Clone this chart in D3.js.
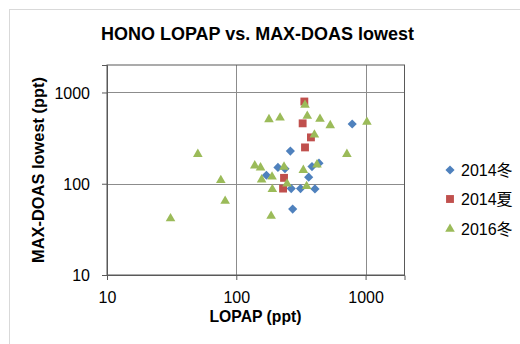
<!DOCTYPE html>
<html>
<head>
<meta charset="utf-8">
<script src="https://cdn.jsdelivr.net/npm/d3@7"></script>
<style>
    body { margin: 0; background: #fff; }
    svg { display: block; font-family: "Liberation Sans", "Noto Sans CJK SC", sans-serif; }
</style>
</head>
<body>
<div id="chart"></div>
<script>
// values (LOPAP ppt, MAX-DOAS ppt)
const winter2014 = [
    [788, 451], [262, 228], [210, 151], [238, 146], [171, 124], [266, 88.5],
    [314, 88.5], [406, 87.7], [363, 118], [385, 154], [436, 168], [273, 52.8]
]
const summer2014 = [
    [336, 796], [326, 459], [378, 322], [340, 250], [234, 116], [230, 88.5]
]
const winter2016 = [
    [50.4, 211], [139, 158], [154, 150], [75.9, 109], [82, 64.7], [31, 41.5],
    [340, 729], [354, 552], [179, 507], [218, 528], [444, 511], [533, 436],
    [1024, 474], [402, 344], [717, 211], [234, 153], [157, 111], [189, 119],
    [247, 100], [190, 87], [350, 94], [330, 141], [421, 162], [186, 44.3]
]
const seriesNames = ["2014冬", "2014夏", "2016冬"]
const xTicks = [10, 100, 1000]
const yTicks = [10, 100, 1000]
const domain = [10, 2000]

const width = 520, height = 344
const plot = { left: 107, top: 65, right: 404.5, bottom: 275 }

const svg = d3.select("#chart").append("svg")
    .attr("width", width)
    .attr("height", height)

// outer chart border
svg.append("rect")
    .attr("x", 9.5).attr("y", 9.5)
    .attr("width", 530).attr("height", 400)
    .attr("fill", "none")
    .attr("stroke", "#d9d9d9")

const xScale = d3.scaleLog().domain(domain).range([plot.left, plot.right])
const yScale = d3.scaleLog().domain(domain).range([plot.bottom, plot.top])

// gridlines
const grid = svg.append("g").attr("stroke", "#8c8c8c").attr("stroke-width", 1)
grid.selectAll(".gx").data(xTicks.slice(1)).enter().append("line")
    .attr("x1", d => Math.round(xScale(d)) + 0.5).attr("x2", d => Math.round(xScale(d)) + 0.5)
    .attr("y1", plot.top).attr("y2", plot.bottom)
grid.selectAll(".gy").data(yTicks.slice(1)).enter().append("line")
    .attr("y1", d => Math.round(yScale(d)) + 0.5).attr("y2", d => Math.round(yScale(d)) + 0.5)
    .attr("x1", plot.left).attr("x2", plot.right)

// plot border
svg.append("rect")
    .attr("x", plot.left).attr("y", plot.top)
    .attr("width", plot.right - plot.left).attr("height", plot.bottom - plot.top)
    .attr("fill", "none")
    .attr("stroke", "#595959")

const xAxis = svg.append("g")
    .attr("transform", "translate(0," + plot.bottom + ")")
    .call(d3.axisBottom(xScale).tickValues(xTicks).tickFormat(d3.format("d")).tickSize(5).tickPadding(12))
const yAxis = svg.append("g")
    .attr("transform", "translate(" + plot.left + ",0)")
    .call(d3.axisLeft(yScale).tickValues(yTicks).tickFormat(d3.format("d")).tickSize(5).tickPadding(12))

for (const ax of [xAxis, yAxis]) {
    ax.select(".domain").attr("stroke", "#595959")
    ax.selectAll(".tick line").attr("stroke", "#595959")
    ax.selectAll(".tick text")
        .attr("fill", "#000")
        .style("font-size", "16px")
        .style("font-family", "Liberation Sans, sans-serif")
}
yAxis.selectAll(".tick text").attr("dy", "0.36em")

// markers
const colors = ["#4f81bd", "#c0504d", "#9bbb59"]
const diamond = d3.symbol().type(d3.symbolSquare).size(42)
const square = d3.symbol().type(d3.symbolSquare).size(62)
const triangle = d3.symbol().type(d3.symbolTriangle).size(40)
const shapes = [
    { data: winter2014, path: diamond(), rot: 45 },
    { data: summer2014, path: square(), rot: 0 },
    { data: winter2016, path: triangle(), rot: 0 }
]

shapes.forEach((s, i) => {
    svg.append("g").selectAll("path")
        .data(s.data)
        .enter()
        .append("path")
        .attr("d", s.path)
        .attr("transform", d => "translate(" + xScale(d[0]) + "," + yScale(d[1]) + ") rotate(" + s.rot + ")")
        .attr("fill", colors[i])
})

// legend
const legend = svg.append("g")
const legendY = [170, 199, 229]
seriesNames.forEach((name, i) => {
    legend.append("path")
        .attr("d", shapes[i].path)
        .attr("transform", "translate(450," + legendY[i] + ") rotate(" + shapes[i].rot + ")")
        .attr("fill", colors[i])
    legend.append("text")
        .attr("x", 461).attr("y", legendY[i])
        .attr("dy", "0.36em")
        .style("font-size", "16px")
        .text(name)
})

// titles
function fitText(sel, target) {
    const w = sel.node().getComputedTextLength()
    const fs = parseFloat(sel.style("font-size"))
    sel.style("font-size", (fs * target / w).toFixed(2) + "px")
}

const title = svg.append("text")
    .attr("x", 257.5).attr("y", 40)
    .attr("text-anchor", "middle")
    .style("font-weight", "bold")
    .style("font-size", "19px")
    .text("HONO LOPAP vs. MAX-DOAS lowest")
fitText(title, 313)

const xTitle = svg.append("text")
    .attr("x", 255.5).attr("y", 322)
    .attr("text-anchor", "middle")
    .style("font-weight", "bold")
    .style("font-size", "16px")
    .text("LOPAP (ppt)")
fitText(xTitle, 92)

const yTitle = svg.append("text")
    .attr("transform", "translate(44,170) rotate(-90)")
    .attr("text-anchor", "middle")
    .style("font-weight", "bold")
    .style("font-size", "16px")
    .text("MAX-DOAS lowest (ppt)")
fitText(yTitle, 186)
</script>
</body>
</html>
